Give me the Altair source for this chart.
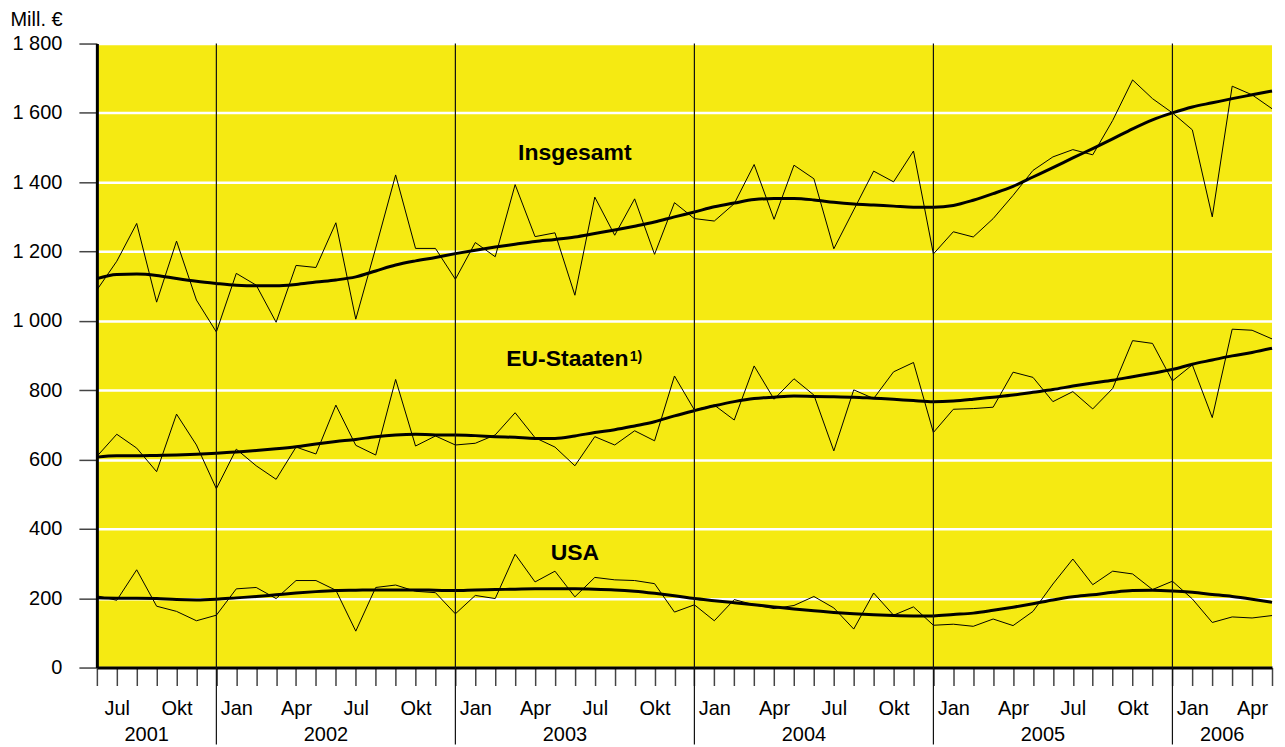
import altair as alt
import pandas as pd

# Months: index 0 = Jun 2001 ... index 59 = Mai 2006
month_names = ["Jan", "Feb", "Mär", "Apr", "Mai", "Jun", "Jul", "Aug", "Sep", "Okt", "Nov", "Dez"]
shown_months = ["Jan", "Apr", "Jul", "Okt"]
n_months = 60
month_idx = list(range(n_months))
tick_labels = []
for i in month_idx:
    m = month_names[(i + 5) % 12]
    tick_labels.append(m if m in shown_months else "")

years = ["2001", "2002", "2003", "2004", "2005", "2006"]
year_label_idx = [2.5, 11.5, 23.5, 35.5, 47.5, 56.5]
year_bounds = [6, 18, 30, 42, 54]

ins_raw = [1089, 1172, 1281, 1054, 1230, 1060, 968, 1137, 1103, 996, 1160, 1154,
           1283, 1005, 1210, 1421, 1209, 1209, 1120, 1226, 1185, 1393, 1243, 1254,
           1074, 1357, 1247, 1352, 1192, 1341, 1295, 1288, 1338, 1451, 1293, 1449,
           1410, 1208, 1320, 1432, 1401, 1490, 1193, 1257, 1242, 1295, 1362, 1434,
           1473, 1494, 1479, 1578, 1695, 1641, 1600, 1551, 1300, 1677, 1652, 1612]
ins_trend = [1122, 1134, 1135, 1131, 1122, 1114, 1108, 1103, 1101, 1101, 1105, 1112,
             1118, 1127, 1144, 1161, 1173, 1183, 1194, 1204, 1213, 1221, 1229, 1235,
             1242, 1252, 1262, 1273, 1285, 1300, 1314, 1329, 1340, 1350, 1353, 1353,
             1349, 1342, 1337, 1334, 1331, 1328, 1328, 1333, 1348, 1367, 1388, 1415,
             1442, 1470, 1497, 1525, 1554, 1580, 1600, 1617, 1629, 1641, 1652, 1663]

eu_raw = [609, 673, 633, 565, 731, 642, 516, 630, 582, 543, 636, 616,
          757, 641, 613, 831, 639, 668, 642, 647, 671, 735, 663, 636,
          582, 666, 642, 683, 654, 841, 743, 757, 714, 870, 774, 833,
          786, 625, 801, 776, 853, 880, 678, 745, 747, 751, 852, 837,
          767, 796, 746, 805, 943, 935, 827, 873, 721, 976, 973, 948]
eu_trend = [607, 611, 611, 612, 613, 615, 618, 622, 626, 631, 637, 645,
            652, 658, 666, 671, 673, 671, 671, 669, 666, 664, 661, 661,
            668, 678, 686, 697, 709, 726, 741, 755, 767, 776, 780, 783,
            782, 781, 780, 777, 774, 770, 767, 769, 774, 780, 786, 794,
            802, 812, 821, 829, 839, 849, 860, 875, 887, 899, 909, 921]

usa_raw = [207, 194, 282, 177, 162, 135, 151, 227, 231, 199, 251, 251,
           223, 105, 231, 238, 220, 216, 155, 208, 199, 327, 247, 278,
           204, 260, 253, 251, 242, 160, 181, 135, 196, 181, 170, 179,
           205, 172, 111, 215, 151, 175, 122, 125, 119, 140, 121, 162,
           241, 313, 239, 278, 270, 225, 249, 198, 130, 146, 143, 150]
usa_trend = [201, 200, 200, 199, 196, 195, 197, 201, 205, 210, 215, 219,
             222, 223, 224, 224, 224, 223, 222, 224, 225, 226, 227, 227,
             227, 226, 224, 220, 214, 207, 199, 193, 187, 181, 175, 169,
             164, 159, 155, 152, 150, 149, 149, 153, 157, 165, 174, 184,
             195, 204, 210, 217, 222, 223, 221, 217, 211, 205, 197, 188]

series_names = ["Insgesamt", "EU-Staaten", "USA"]

rows = []
for name, raw, trend in zip(series_names, [ins_raw, eu_raw, usa_raw], [ins_trend, eu_trend, usa_trend]):
    for i in month_idx:
        rows.append({"idx": i, "series": name, "raw": raw[i], "trend": trend[i]})
df = pd.DataFrame(rows)

FONT = "Liberation Sans"
YELLOW = "#F5EA12"

label_expr = "[" + ",".join("'" + t + "'" for t in tick_labels) + "][datum.value]"

x_enc = alt.X(
    "idx:Q",
    title=None,
    scale=alt.Scale(domain=[0, n_months - 1], nice=False, zero=False),
    axis=alt.Axis(
        values=month_idx, labelExpr=label_expr, grid=False,
        tickSize=18, tickWidth=1.5, tickColor="#444444",
        domainColor="black", domainWidth=3,
        labelPadding=13, labelFontSize=20, labelFont=FONT, labelColor="black",
        labelOverlap=False, labelFlush=False,
    ),
)
y_scale = alt.Scale(domain=[0, 1800], nice=False, zero=True)
y_axis = alt.Axis(
    values=list(range(0, 1801, 200)),
    labelExpr="replace(format(datum.value, ','), ',', ' ')",
    grid=True, gridColor="white", gridWidth=2.5,
    tickSize=18, tickWidth=1.5, tickColor="#444444",
    domainColor="black", domainWidth=3,
    labelPadding=17, labelFontSize=20, labelFont=FONT, labelColor="black",
    title="Mill. €", titleAngle=0, titleAlign="left", titleBaseline="alphabetic",
    titleX=-87, titleY=-18, titleFontSize=20, titleFontWeight="normal",
    titleFont=FONT, titleColor="black",
)

base = alt.Chart(df)

thin = base.mark_line(color="black", strokeWidth=1).encode(
    x=x_enc,
    y=alt.Y("raw:Q", scale=y_scale, axis=y_axis),
    detail="series:N",
)
thick = base.mark_line(color="black", strokeWidth=3, interpolate="monotone").encode(
    x=x_enc,
    y=alt.Y("trend:Q", scale=y_scale, axis=y_axis),
    detail="series:N",
)

rules = alt.Chart(pd.DataFrame({"idx": year_bounds})).mark_rule(
    color="#111111", strokeWidth=1.2
).encode(
    x=x_enc,
    y=alt.value(0),
    y2=alt.value(702),
)

year_text = alt.Chart(pd.DataFrame({"idx": year_label_idx, "year": years})).mark_text(
    font=FONT, fontSize=20, color="black", align="center", baseline="alphabetic"
).encode(
    x=x_enc,
    y=alt.value(699),
    text="year:N",
)

center_labels = pd.DataFrame({"idx": [24.0, 24.0], "val": [1465, 309], "txt": ["Insgesamt", "USA"]})
left_labels = pd.DataFrame({"idx": [20.55], "val": [870], "txt": ["EU-Staaten"]})
sup_labels = pd.DataFrame({"idx": [26.75], "val": [884], "txt": ["1)"]})

lab_c = alt.Chart(center_labels).mark_text(
    font=FONT, fontSize=23, fontWeight="bold", color="black", align="center", baseline="alphabetic"
).encode(x=x_enc, y=alt.Y("val:Q", scale=y_scale, axis=y_axis), text="txt:N")
lab_l = alt.Chart(left_labels).mark_text(
    font=FONT, fontSize=23, fontWeight="bold", color="black", align="left", baseline="alphabetic"
).encode(x=x_enc, y=alt.Y("val:Q", scale=y_scale, axis=y_axis), text="txt:N")
lab_s = alt.Chart(sup_labels).mark_text(
    font=FONT, fontSize=14, fontWeight="bold", color="black", align="left", baseline="alphabetic"
).encode(x=x_enc, y=alt.Y("val:Q", scale=y_scale, axis=y_axis), text="txt:N")

chart = alt.layer(thin, thick, rules, year_text, lab_c, lab_l, lab_s).properties(
    width=1177,
    height=625,
    background="white",
    autosize=alt.AutoSizeParams(type="none"),
    padding={"left": 89, "top": 35, "right": 5, "bottom": 90},
).configure_view(fill=YELLOW, stroke=None)

chart.save("out.html", embed_options={"renderer": "svg", "actions": False})
